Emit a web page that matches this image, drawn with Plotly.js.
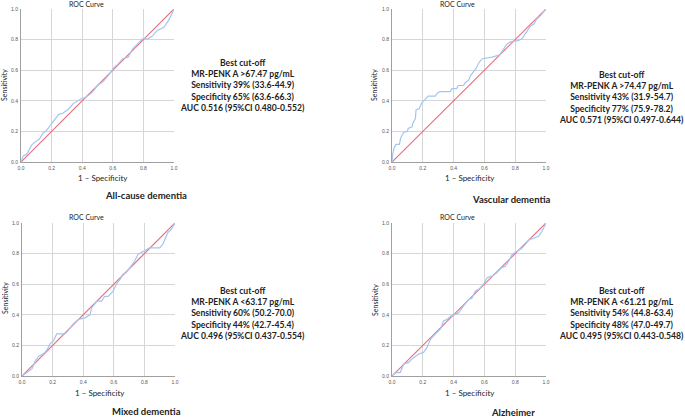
<!DOCTYPE html>
<html>
<head>
<meta charset="utf-8">
<script src="https://cdn.plot.ly/plotly-3.0.1.min.js"></script>
<style>html,body{margin:0;padding:0;background:#fff;}#chart{width:685px;height:419px;}</style>
</head>
<body>
<div id="chart"></div>
<script>
// ---- data ----
const diagX = [0, 1];
const diagY = [0, 1];
const tickVals = [0, 0.2, 0.4, 0.6, 0.8, 1.0];
const tickText = ["0.0", "0.2", "0.4", "0.6", "0.8", "1.0"];

const allCauseFpr = [0,0.004,0.015,0.037,0.07,0.09,0.12,0.145,0.17,0.195,0.22,0.245,0.275,0.31,0.34,0.37,0.395,0.415,0.44,0.47,0.5,0.535,0.57,0.61,0.63,0.665,0.7,0.73,0.76,0.795,0.83,0.86,0.89,0.935,0.97,1];
const allCauseTpr = [0,0.013,0.04,0.05,0.11,0.13,0.15,0.19,0.21,0.245,0.28,0.31,0.32,0.345,0.38,0.4,0.415,0.42,0.435,0.46,0.5,0.525,0.565,0.62,0.635,0.675,0.685,0.74,0.77,0.805,0.805,0.825,0.86,0.88,0.935,1];

const vascularFpr = [0,0.004,0.013,0.026,0.048,0.056,0.065,0.078,0.1,0.105,0.13,0.134,0.152,0.156,0.177,0.195,0.212,0.234,0.28,0.3,0.312,0.378,0.39,0.42,0.43,0.465,0.476,0.498,0.51,0.53,0.545,0.565,0.586,0.65,0.67,0.7,0.725,0.746,0.768,0.79,0.822,0.844,0.866,0.883,0.9,0.92,0.94,0.963,1];
const vascularTpr = [0,0.045,0.09,0.115,0.115,0.155,0.175,0.195,0.2,0.22,0.23,0.25,0.285,0.34,0.35,0.39,0.405,0.43,0.43,0.455,0.46,0.46,0.48,0.48,0.5,0.5,0.52,0.535,0.565,0.59,0.61,0.65,0.675,0.685,0.69,0.7,0.74,0.77,0.785,0.79,0.795,0.805,0.84,0.87,0.89,0.9,0.935,0.955,1];

const mixedFpr = [0,0.032,0.065,0.087,0.11,0.14,0.16,0.184,0.205,0.227,0.28,0.3,0.335,0.37,0.41,0.444,0.455,0.49,0.52,0.54,0.563,0.595,0.617,0.64,0.66,0.68,0.714,0.736,0.758,0.79,0.833,0.9,0.92,0.952,0.974,1];
const mixedTpr = [0,0.024,0.046,0.1,0.13,0.145,0.165,0.21,0.23,0.275,0.275,0.295,0.34,0.37,0.38,0.4,0.445,0.49,0.49,0.52,0.52,0.555,0.6,0.63,0.665,0.675,0.72,0.75,0.795,0.815,0.837,0.837,0.86,0.935,0.957,1];

const alzFpr = [0,0.02,0.054,0.076,0.108,0.14,0.173,0.205,0.227,0.25,0.28,0.314,0.335,0.357,0.38,0.4,0.433,0.465,0.498,0.52,0.54,0.563,0.595,0.617,0.65,0.68,0.71,0.736,0.758,0.78,0.81,0.844,0.866,0.888,0.92,0.952,0.974,1];
const alzTpr = [0,0.02,0.024,0.078,0.089,0.12,0.143,0.154,0.187,0.24,0.273,0.306,0.36,0.37,0.39,0.4,0.414,0.458,0.5,0.51,0.555,0.566,0.6,0.642,0.653,0.675,0.707,0.718,0.75,0.794,0.816,0.837,0.86,0.89,0.9,0.913,0.946,1];

const panelNames = ["All-cause dementia", "Vascular dementia", "Mixed dementia", "Alzheimer"];
const panelStats = [
  ["Best cut-off", "MR-PENK A >67.47 pg/mL", "Sensitivity 39% (33.6-44.9)", "Specificity 65% (63.6-66.3)", "AUC 0.516 (95%CI 0.480-0.552)"],
  ["Best cut-off", "MR-PENK A >74.47 pg/mL", "Sensitivity 43% (31.9-54.7)", "Specificity 77% (75.9-78.2)", "AUC 0.571 (95%CI 0.497-0.644)"],
  ["Best cut-off", "MR-PENK A <63.17 pg/mL", "Sensitivity 60% (50.2-70.0)", "Specificity 44% (42.7-45.4)", "AUC 0.496 (95%CI 0.437-0.554)"],
  ["Best cut-off", "MR-PENK A <61.21 pg/mL", "Sensitivity 54% (44.8-63.4)", "Specificity 48% (47.0-49.7)", "AUC 0.495 (95%CI 0.443-0.548)"]
];
const curves = [[allCauseFpr, allCauseTpr], [vascularFpr, vascularTpr], [mixedFpr, mixedTpr], [alzFpr, alzTpr]];

// ---- layout geometry (pixels) ----
const W = 685, H = 419;
const boxes = [
  {x0: 21, x1: 174, y0: 9, y1: 162, title: [86, 4], xl: [103, 178], yl: [4, 85], name: [146, 195], stats: [243, 85.5]},
  {x0: 392, x1: 546, y0: 9, y1: 162, title: [457, 4], xl: [470, 178], yl: [374, 85], name: [512, 200], stats: [621, 97]},
  {x0: 22, x1: 175, y0: 223, y1: 376, title: [86, 217], xl: [100, 393], yl: [5, 298], name: [146, 411], stats: [243, 313.5]},
  {x0: 392, x1: 546, y0: 223, y1: 376, title: [457, 217], xl: [470, 393], yl: [375, 300], name: [513, 412.5], stats: [621, 313.5]}
];
const px = v => v / W;
const py = v => 1 - v / H;

const traces = [];
const layout = {
  width: W, height: H,
  margin: {l: 0, r: 0, t: 0, b: 0},
  paper_bgcolor: "#ffffff",
  plot_bgcolor: "#ffffff",
  showlegend: false,
  annotations: []
};
const labFont = "Lato, 'Open Sans', sans-serif";

boxes.forEach((b, i) => {
  const n = i + 1;
  const xa = n === 1 ? "x" : "x" + n;
  const ya = n === 1 ? "y" : "y" + n;
  traces.push({x: diagX, y: diagY, xaxis: xa, yaxis: ya, mode: "lines",
    line: {color: "#e9707f", width: 1.2}, hoverinfo: "skip"});
  traces.push({x: curves[i][0], y: curves[i][1], xaxis: xa, yaxis: ya, mode: "lines",
    line: {color: "#a2c6f2", width: 1.2}, hoverinfo: "skip"});
  const axCommon = {
    range: [0, 1], tickvals: tickVals, ticktext: tickText,
    showgrid: true, gridcolor: "#d6d6d6", gridwidth: 1,
    zeroline: false, showline: true, linecolor: "#a0a0a0", linewidth: 1,
    ticks: "", tickfont: {size: 5, color: "#555", family: "Arial, sans-serif"},
    fixedrange: true
  };
  layout["xaxis" + (n === 1 ? "" : n)] = Object.assign({}, axCommon, {
    domain: [px(b.x0), px(b.x1)], anchor: ya, ticklabelstandoff: 1
  });
  layout["yaxis" + (n === 1 ? "" : n)] = Object.assign({}, axCommon, {
    domain: [py(b.y1), py(b.y0)], anchor: xa, ticklabelstandoff: 1
  });
  const A = layout.annotations;
  A.push({text: "ROC Curve", xref: "paper", yref: "paper", x: px(b.title[0]), y: py(b.title[1]),
    xanchor: "center", yanchor: "middle", showarrow: false, font: {family: labFont, size: 7, color: "#222"}});
  A.push({text: "1 – Specificity", xref: "paper", yref: "paper", x: px(b.xl[0]), y: py(b.xl[1]),
    xanchor: "center", yanchor: "middle", showarrow: false, font: {family: labFont, size: 8, color: "#222"}});
  A.push({text: "Sensitivity", xref: "paper", yref: "paper", x: px(b.yl[0]), y: py(b.yl[1]), textangle: -90,
    xanchor: "center", yanchor: "middle", showarrow: false, font: {family: labFont, size: 7, color: "#222"}});
  A.push({text: "<b>" + panelNames[i] + "</b>", xref: "paper", yref: "paper", x: px(b.name[0]), y: py(b.name[1]),
    xanchor: "center", yanchor: "middle", showarrow: false, font: {family: labFont, size: 9.5, color: "#222"}});
  A.push({text: panelStats[i].map(s => "<b>" + s + "</b>").join("<br>"), xref: "paper", yref: "paper",
    x: px(b.stats[0]), y: py(b.stats[1]), align: "center",
    xanchor: "center", yanchor: "middle", showarrow: false, font: {family: labFont, size: 8.6, color: "#222"}});
});

Plotly.newPlot("chart", traces, layout, {displayModeBar: false, staticPlot: true});
</script>
</body>
</html>
